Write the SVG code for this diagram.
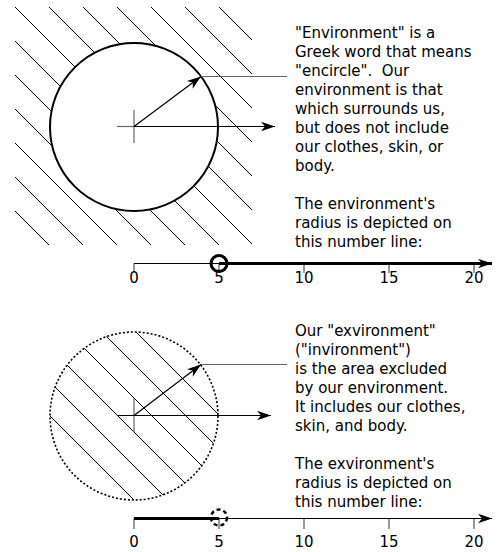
<svg xmlns="http://www.w3.org/2000/svg" width="503" height="552" viewBox="0 0 503 552">
<style>
text{font-family:"DejaVu Sans","Liberation Sans",sans-serif;font-size:15px;fill:#000}
.num{text-anchor:middle}
.hatch{stroke:#000;stroke-width:1;fill:none}
.gray{stroke:#666;stroke-width:1.2;fill:none}
.arr{stroke:#000;stroke-width:1.2;fill:none;marker-end:url(#ah)}
.tick{stroke:#555;stroke-width:1.2}
</style>
<defs>
<marker id="ah" markerWidth="16" markerHeight="12" refX="15" refY="6" orient="auto" markerUnits="userSpaceOnUse" viewBox="0 0 16 12">
<path d="M15,6 L1,1.2 L5,6 L1,10.8 z" fill="#000"/>
</marker>
<clipPath id="inner"><circle cx="134" cy="416" r="84"/></clipPath>
</defs>

<g id="environment">
<g class="hatch">
<line x1="15" y1="211" x2="49" y2="245"/>
<line x1="15" y1="177" x2="83" y2="245"/>
<line x1="15" y1="143" x2="117" y2="245"/>
<line x1="15" y1="109" x2="151" y2="245"/>
<line x1="15" y1="75" x2="185" y2="245"/>
<line x1="15" y1="41" x2="219" y2="245"/>
<line x1="15" y1="7" x2="252" y2="244"/>
<line x1="49" y1="7" x2="252" y2="210"/>
<line x1="83" y1="7" x2="252" y2="176"/>
<line x1="117" y1="7" x2="252" y2="142"/>
<line x1="151" y1="7" x2="252" y2="108"/>
<line x1="185" y1="7" x2="252" y2="74"/>
<line x1="219" y1="7" x2="252" y2="40"/>
</g>
<circle cx="134" cy="127" r="84" fill="#fff" stroke="#000" stroke-width="2"/>
<line class="gray" x1="117" y1="126.5" x2="134" y2="126.5"/>
<line class="gray" x1="134" y1="110" x2="134" y2="143"/>
</g>

<g id="exvironment">
<g class="hatch" clip-path="url(#inner)">
<line x1="0" y1="196" x2="400" y2="596"/>
<line x1="0" y1="230" x2="400" y2="630"/>
<line x1="0" y1="264" x2="400" y2="664"/>
<line x1="0" y1="298" x2="400" y2="698"/>
<line x1="0" y1="332" x2="400" y2="732"/>
<line x1="0" y1="366" x2="400" y2="766"/>
</g>
<circle cx="134" cy="416" r="84" fill="none" stroke="#000" stroke-width="1.6" stroke-dasharray="2,2"/>
<line class="gray" x1="134" y1="398" x2="134" y2="432"/>
</g>

<g id="connectors">
<line class="arr" x1="134" y1="126.5" x2="275" y2="126.5"/>
<line class="arr" x1="134" y1="126.5" x2="201" y2="76.5"/>
<line class="gray" x1="201" y1="76.5" x2="287" y2="76.5"/>
<line class="arr" x1="117" y1="415.5" x2="271" y2="415.5"/>
<line class="arr" x1="134" y1="415.5" x2="201" y2="364.5"/>
<line class="gray" x1="201" y1="364.5" x2="287" y2="364.5"/>
</g>

<g id="text-top">
<text x="295" y="38">"Environment" is a</text>
<text x="295" y="57">Greek word that means</text>
<text x="295" y="76" xml:space="preserve">"encircle".  Our</text>
<text x="295" y="95">environment is that</text>
<text x="295" y="114">which surrounds us,</text>
<text x="295" y="133">but does not include</text>
<text x="295" y="152">our clothes, skin, or</text>
<text x="295" y="171">body.</text>
<text x="295" y="209">The environment's</text>
<text x="295" y="228">radius is depicted on</text>
<text x="295" y="247">this number line:</text>
</g>

<g id="numberline-top">
<g class="tick">
<line x1="134" y1="263.5" x2="134" y2="273"/>
<line x1="219" y1="263.5" x2="219" y2="273"/>
<line x1="304" y1="263.5" x2="304" y2="273"/>
<line x1="389" y1="263.5" x2="389" y2="273"/>
<line x1="474" y1="263.5" x2="474" y2="273"/>
</g>
<line x1="134" y1="263.5" x2="219" y2="263.5" stroke="#000" stroke-width="1.2"/>
<line x1="219" y1="263.5" x2="492" y2="263.5" stroke="#000" stroke-width="3" marker-end="url(#ah)"/>
<circle cx="219" cy="263.5" r="8" fill="none" stroke="#000" stroke-width="3"/>
<text class="num" x="134" y="283">0</text>
<text class="num" x="219" y="283">5</text>
<text class="num" x="304" y="283">10</text>
<text class="num" x="389" y="283">15</text>
<text class="num" x="474" y="283">20</text>
</g>

<g id="text-bottom">
<text x="295" y="336">Our "exvironment"</text>
<text x="295" y="355">("invironment")</text>
<text x="295" y="374">is the area excluded</text>
<text x="295" y="393">by our environment.</text>
<text x="295" y="412">It includes our clothes,</text>
<text x="295" y="431">skin, and body.</text>
<text x="295" y="469">The exvironment's</text>
<text x="295" y="488">radius is depicted on</text>
<text x="295" y="507">this number line:</text>
</g>

<g id="numberline-bottom">
<g class="tick">
<line x1="134" y1="518.5" x2="134" y2="529"/>
<line x1="219" y1="518.5" x2="219" y2="529"/>
<line x1="304" y1="518.5" x2="304" y2="529"/>
<line x1="389" y1="518.5" x2="389" y2="529"/>
<line x1="474" y1="518.5" x2="474" y2="529"/>
</g>
<line x1="134" y1="518.5" x2="219" y2="518.5" stroke="#000" stroke-width="3"/>
<line x1="219" y1="518.5" x2="492" y2="518.5" stroke="#000" stroke-width="1.2" marker-end="url(#ah)"/>
<circle cx="219" cy="517.5" r="8" fill="none" stroke="#000" stroke-width="2.5" stroke-dasharray="4,3"/>
<text class="num" x="134" y="547">0</text>
<text class="num" x="219" y="547">5</text>
<text class="num" x="304" y="547">10</text>
<text class="num" x="389" y="547">15</text>
<text class="num" x="474" y="547">20</text>
</g>
</svg>
